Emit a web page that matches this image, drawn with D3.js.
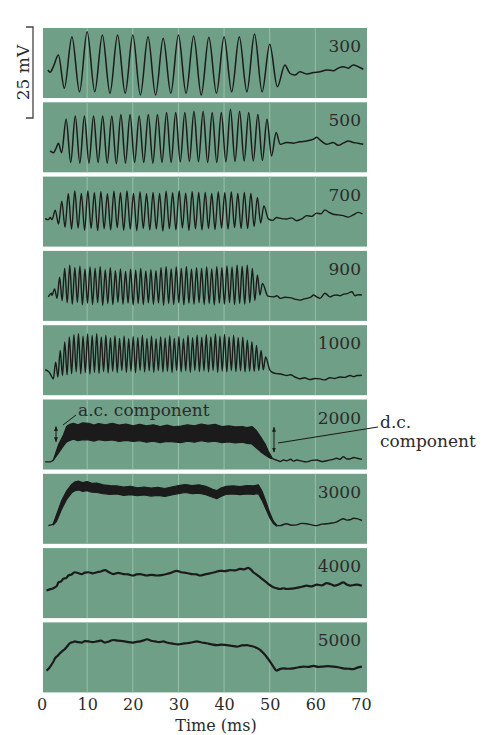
<!DOCTYPE html>
<html>
<head>
<meta charset="utf-8">
<script src="https://cdn.jsdelivr.net/npm/d3@7"></script>
<style>
  body { margin: 0; background: #fff; }
  svg text { font-family: 'DejaVu Serif', serif; fill: #2b2b2b; }
</style>
</head>
<body>
<div id="chart"></div>
<script>

// stimulus frequencies (Hz), one panel each
var freqs = [300, 500, 700, 900, 1000, 2000, 3000, 4000, 5000];
var timeTicks = [0, 10, 20, 30, 40, 50, 60, 70];
var gridTimes = [10, 20, 30, 40, 50, 60];

// a.c. panels: time (ms) of the first trough of the response
var onsets = [5.0, 4.4, 2.3, 2.3, 2.6];

// one peak / one trough per cycle, mV above panel floor
var peaks300 = [16.8, 18.2, 17.3, 17.3, 17.3, 16.8, 16.4, 17.3, 17.0, 16.7, 16.8, 16.8, 17.6, 14.8, 9.1];
var troughs300 = [2.7, 1.7, 1.7, 1.3, 1.3, 0.8, 0.8, 1.3, 1.3, 0.8, 1.3, 1.7, 1.7, 1.7, 3.1];

var peaks500 = [14.6, 15.5, 15.5, 15.5, 15.5, 15.5, 15.9, 15.9, 15.5, 15.9, 15.9, 16.4, 16.4, 16.4, 16.8, 16.8,
  16.4, 16.4, 17.3, 16.8, 16.4, 15.9, 14.6, 10.9];
var troughs500 = [5.4, 2.7, 2.5, 2.5, 2.7, 2.5, 2.4, 2.5, 2.7, 2.7, 2.5, 2.7, 2.7, 2.9, 3.0, 2.9,
  2.7, 2.7, 2.9, 3.0, 3.1, 3.1, 3.3, 4.5];

var peaks700 = [10.0, 12.5, 14.5, 15.3, 14.6, 15.3, 14.8, 15.1, 14.5, 15.2, 14.8, 15.3, 14.6, 15.0, 14.5, 14.9,
  14.6, 15.2, 14.8, 15.3, 14.7, 15.1, 14.9, 14.9, 14.6, 15.0, 14.8, 15.0, 14.6, 14.9, 14.6, 13.5, 11.2];
var troughs700 = [7.4, 6.2, 5.3, 4.8, 5.1, 4.5, 5.0, 4.4, 4.9, 4.6, 5.2, 4.5, 4.8, 4.4, 5.0, 4.6,
  4.8, 4.3, 4.9, 4.6, 5.1, 4.5, 4.9, 4.6, 5.0, 4.7, 5.1, 4.8, 5.2, 5.0, 5.0, 5.5, 6.5];

var peaks900 = [8.8, 12.0, 14.4, 15.3, 14.6, 15.0, 14.2, 14.8, 14.4, 14.9, 14.0, 14.6, 13.8, 14.3, 13.6, 14.2,
  13.9, 14.4, 13.7, 14.1, 13.8, 14.6, 14.9, 14.3, 14.8, 14.4, 14.9, 14.2, 14.6, 14.4, 14.8, 14.3,
  14.9, 14.6, 15.1, 14.8, 15.3, 15.0, 15.3, 14.4, 12.6, 10.3];
var troughs900 = [7.0, 6.2, 5.6, 5.0, 4.6, 5.1, 4.4, 4.9, 4.5, 5.0, 4.3, 4.8, 4.5, 5.1, 4.6, 4.9,
  4.4, 4.8, 4.5, 5.0, 4.6, 4.9, 4.3, 4.8, 4.5, 5.0, 4.4, 4.9, 4.6, 5.0, 4.5, 4.8,
  4.4, 4.9, 4.6, 5.0, 4.5, 4.8, 4.6, 5.0, 5.6, 7.1];

var peaks1000 = [9.1, 12.3, 14.6, 16.0, 16.6, 16.9, 16.2, 16.8, 16.4, 16.9, 16.0, 16.4, 15.7, 16.3, 15.6, 16.2,
  15.5, 16.1, 15.8, 16.4, 15.6, 16.2, 15.5, 16.0, 15.7, 16.3, 15.6, 16.1, 15.5, 16.4, 15.8, 16.5,
  15.9, 16.6, 16.0, 16.8, 16.2, 16.7, 16.0, 16.4, 15.8, 15.9, 15.1, 14.7, 13.7, 12.3, 10.5];
var troughs1000 = [4.5, 5.0, 5.4, 5.6, 5.9, 6.4, 5.9, 6.2, 5.8, 6.3, 6.0, 6.5, 6.1, 6.6, 6.2, 6.8,
  6.3, 6.6, 6.2, 6.8, 6.4, 6.7, 6.3, 6.8, 6.4, 6.6, 6.2, 6.8, 6.4, 6.7, 6.3, 6.8,
  6.5, 6.7, 6.4, 6.8, 6.3, 6.6, 6.4, 6.8, 6.5, 6.7, 6.4, 6.6, 6.5, 6.8, 7.0];

// resting trace before and after the tone, [ms, mV]
var pre300 = [[1.4, 7.7], [1.9, 7.1], [2.6, 8.6], [3.7, 11.8]];
var post300 = [[54.4, 6.8], [55.5, 6.3], [56.6, 7.2], [58.1, 6.6], [59.6, 7.0], [61.0, 7.2], [62.5, 7.7],
  [63.9, 7.5], [65.0, 8.2], [66.1, 8.6], [67.2, 8.2], [68.3, 9.1], [69.4, 8.6], [70.5, 7.9]];
var pre500 = [[1.9, 5.9], [2.6, 5.4], [3.2, 6.6], [3.7, 8.0]];
var post500 = [[52.3, 7.7], [53.7, 8.2], [55.2, 8.0], [56.6, 8.4], [58.1, 8.6], [59.6, 9.1], [60.3, 9.6],
  [61.0, 8.9], [62.5, 7.7], [63.9, 8.2], [65.0, 7.4], [66.1, 8.0], [67.2, 8.6], [68.3, 8.2], [69.4, 8.0], [70.5, 7.7]];
var pre700 = [[0.8, 7.7], [1.5, 7.4], [1.9, 8.0]];
var post700 = [[49.7, 7.6], [50.6, 7.2], [51.5, 8.0], [52.6, 7.7], [53.7, 7.6], [54.8, 7.9], [55.9, 7.1],
  [57.0, 7.6], [58.1, 8.5], [59.2, 8.3], [60.3, 9.2], [61.2, 9.0], [62.1, 10.1], [63.0, 9.4], [63.9, 8.9],
  [65.0, 8.7], [66.1, 8.5], [67.2, 8.1], [68.3, 8.7], [69.4, 9.4], [70.3, 9.0]];
var pre900 = [[1.5, 6.6], [2.2, 7.6]];
var post900 = [[49.6, 6.8], [50.8, 6.6], [51.6, 6.9], [52.3, 6.2], [53.3, 6.5], [54.4, 6.4], [55.5, 6.0],
  [56.6, 5.7], [57.4, 6.0], [58.1, 6.2], [59.0, 6.5], [59.6, 7.1], [60.3, 6.6], [61.0, 6.2], [62.1, 7.6],
  [63.2, 6.6], [64.0, 7.0], [64.7, 7.1], [65.4, 6.9], [66.1, 7.3], [67.0, 7.5], [68.0, 8.0], [68.7, 6.9],
  [69.4, 7.2], [70.2, 7.1]];
var pre1000 = [[0.8, 7.0], [1.6, 6.4], [1.9, 5.9]];
var post1000 = [[50.0, 7.0], [50.4, 6.4], [51.2, 6.0], [51.9, 5.9], [52.8, 5.7], [53.7, 5.4], [54.6, 5.6],
  [55.5, 5.0], [56.1, 4.7], [56.6, 4.5], [57.6, 4.8], [58.8, 4.3], [59.9, 4.6], [61.0, 4.5], [62.0, 4.2],
  [63.2, 4.8], [64.3, 4.6], [65.4, 5.0], [66.5, 4.9], [67.6, 5.4], [68.4, 5.1], [69.1, 5.4], [70.2, 5.5]];

// high frequencies: a.c. band edges, [ms, mV]
var upper2000 = [[2.6, 2.6], [3.7, 6.7], [4.8, 9.5], [5.5, 11.8], [6.2, 12.4], [7.0, 12.7], [8.0, 12.3],
  [9.0, 12.8], [10.3, 12.7], [11.5, 12.2], [12.5, 12.6], [14.0, 12.3], [15.5, 12.7], [17.0, 12.2], [18.5, 12.5],
  [20.1, 12.0], [21.5, 12.4], [23.0, 12.0], [24.5, 12.3], [26.0, 11.8], [27.5, 12.2], [29.0, 11.7], [30.5, 11.9],
  [32.0, 12.3], [33.5, 12.0], [35.0, 12.5], [36.5, 12.1], [38.0, 12.4], [39.5, 11.8], [41.0, 12.0], [42.5, 11.7],
  [44.0, 11.8], [45.0, 11.5], [46.1, 11.8], [47.0, 10.8], [48.0, 9.0], [49.0, 7.0], [49.7, 5.0], [50.4, 3.5]];
var lower2000 = [[2.6, 2.6], [3.7, 4.5], [4.8, 6.5], [5.5, 7.6], [6.2, 8.0], [7.0, 8.3], [8.0, 7.9],
  [9.0, 8.2], [10.3, 8.1], [11.5, 7.8], [12.5, 8.2], [14.0, 7.9], [15.5, 8.1], [17.0, 7.7], [18.5, 8.0],
  [20.1, 7.7], [21.5, 7.9], [23.0, 7.5], [24.5, 7.8], [26.0, 7.4], [27.5, 7.7], [29.0, 7.6], [30.5, 7.4],
  [32.0, 7.8], [33.5, 7.5], [35.0, 7.9], [36.5, 7.6], [38.0, 7.8], [39.5, 7.4], [41.0, 7.6], [42.5, 7.3],
  [44.0, 7.5], [45.0, 7.2], [46.1, 7.0], [47.0, 6.0], [48.0, 4.9], [49.0, 4.0], [49.7, 3.4], [50.4, 3.0]];
var pre2000 = [[0.8, 2.1], [1.9, 2.1], [2.6, 2.6]];
var post2000 = [[50.4, 3.2], [51.0, 2.8], [51.5, 2.6], [52.3, 2.2], [53.0, 2.6], [53.7, 2.4], [54.6, 2.8],
  [55.2, 2.3], [55.9, 2.6], [57.0, 2.3], [58.1, 2.1], [59.2, 2.5], [60.3, 2.6], [61.4, 2.2], [62.5, 2.4],
  [63.6, 2.7], [64.7, 3.1], [65.4, 2.8], [66.1, 3.5], [66.9, 2.9], [67.6, 2.9], [68.4, 3.3], [69.1, 3.1], [70.2, 2.8]];

var upper3000 = [[2.6, 5.6], [3.3, 8.0], [4.4, 11.8], [5.5, 14.5], [6.6, 16.3], [7.3, 17.0], [8.2, 17.2],
  [9.0, 16.8], [10.0, 17.1], [11.0, 16.6], [12.1, 16.7], [13.5, 16.2], [15.0, 16.0], [16.5, 15.9], [18.0, 15.6],
  [19.5, 15.8], [21.0, 15.4], [22.5, 15.6], [24.0, 15.3], [25.5, 15.5], [27.0, 15.2], [28.5, 15.6], [30.0, 16.0],
  [31.5, 16.3], [33.0, 16.0], [34.5, 16.2], [36.0, 15.8], [37.5, 15.0], [38.4, 14.6], [39.3, 15.3], [40.5, 15.8],
  [42.0, 15.9], [43.5, 15.7], [45.0, 16.0], [46.5, 15.9], [47.5, 16.2], [48.3, 14.5], [49.2, 11.5], [50.0, 8.5],
  [50.8, 6.2], [51.5, 5.2]];
var lower3000 = [[2.6, 5.2], [3.3, 6.2], [4.4, 9.5], [5.5, 12.2], [6.6, 14.0], [7.3, 14.6], [8.2, 14.8],
  [9.0, 14.4], [10.0, 14.6], [11.0, 14.2], [12.1, 14.1], [13.5, 13.8], [15.0, 13.6], [16.5, 13.7], [18.0, 13.3],
  [19.5, 13.5], [21.0, 13.2], [22.5, 13.4], [24.0, 13.1], [25.5, 13.3], [27.0, 13.0], [28.5, 13.4], [30.0, 13.8],
  [31.5, 14.1], [33.0, 13.8], [34.5, 13.9], [36.0, 13.5], [37.5, 12.8], [38.4, 12.4], [39.3, 13.0], [40.5, 13.6],
  [42.0, 13.7], [43.5, 13.5], [45.0, 13.7], [46.5, 13.6], [47.5, 13.8], [48.3, 12.0], [49.2, 9.5], [50.0, 7.2],
  [50.8, 5.6], [51.5, 4.9]];
var pre3000 = [[1.5, 5.0], [2.1, 5.2], [2.6, 5.4]];
var post3000 = [[51.5, 5.0], [52.3, 5.0], [53.0, 5.3], [53.7, 5.5], [54.8, 5.1], [55.9, 5.2], [57.0, 5.6],
  [58.1, 5.5], [59.2, 5.2], [60.3, 5.0], [61.4, 5.4], [62.5, 5.5], [63.6, 5.7], [64.7, 6.0], [65.4, 6.5],
  [66.1, 6.9], [66.9, 6.5], [67.6, 6.6], [68.4, 7.0], [69.1, 6.9], [70.2, 6.4]];

// d.c. only traces
var trace4000 = [[1.1, 7.6], [1.8, 7.9], [2.2, 8.0], [3.0, 8.5], [3.4, 8.9], [3.7, 9.8], [4.3, 10.1], [4.8, 10.8],
  [5.4, 11.0], [5.9, 11.7], [6.6, 12.0], [7.3, 12.6], [8.0, 12.4], [8.8, 12.1], [9.5, 12.5], [10.3, 12.6],
  [11.2, 12.3], [12.1, 12.6], [13.0, 12.8], [13.9, 13.2], [14.8, 12.6], [15.7, 12.1], [16.8, 12.4], [17.9, 12.1],
  [19.0, 12.0], [20.1, 11.7], [20.8, 12.0], [21.6, 12.1], [22.3, 11.9], [23.1, 11.7], [24.1, 11.9], [25.2, 11.7],
  [26.3, 11.8], [27.4, 12.1], [28.5, 12.5], [29.6, 13.0], [30.6, 12.6], [31.8, 12.4], [32.9, 12.1], [34.0, 12.0],
  [34.7, 11.7], [35.8, 12.0], [36.9, 12.3], [38.0, 12.6], [39.1, 13.0], [40.2, 12.9], [41.3, 13.2], [42.4, 13.1],
  [43.5, 13.5], [44.4, 13.4], [45.3, 13.8], [45.9, 13.3], [46.4, 12.6], [47.2, 11.9], [47.9, 11.2], [48.6, 10.5],
  [49.3, 9.8], [50.0, 9.1], [50.8, 8.5], [51.5, 8.2], [52.3, 8.0], [53.0, 8.2], [53.7, 8.0], [54.8, 8.1],
  [55.9, 8.3], [57.0, 8.6], [58.1, 8.9], [59.2, 8.7], [60.3, 9.2], [61.4, 9.0], [62.5, 9.6], [63.4, 9.3],
  [64.3, 8.9], [65.2, 9.3], [66.1, 9.8], [66.9, 9.2], [67.6, 8.9], [68.4, 9.1], [69.1, 9.2], [70.2, 8.9]];
var trace5000 = [[1.1, 6.0], [1.5, 6.4], [1.9, 7.1], [2.5, 8.2], [3.0, 9.4], [3.5, 10.0], [4.1, 10.8], [4.6, 11.4],
  [5.1, 11.9], [5.6, 12.6], [6.2, 13.5], [6.8, 13.8], [7.3, 14.0], [8.0, 13.8], [8.8, 13.7], [9.5, 14.1],
  [10.3, 14.0], [11.2, 13.8], [12.1, 14.0], [13.0, 14.2], [13.9, 13.7], [14.8, 14.0], [15.7, 14.4], [16.8, 14.2],
  [17.9, 14.1], [19.0, 13.8], [20.1, 13.7], [20.8, 13.9], [21.6, 14.0], [22.4, 14.3], [23.1, 14.6], [24.0, 14.2],
  [24.9, 14.0], [25.8, 13.8], [26.7, 14.0], [27.4, 13.7], [28.2, 13.5], [29.1, 13.3], [30.0, 13.2], [31.0, 13.4],
  [31.8, 13.5], [32.9, 13.7], [34.0, 14.0], [35.1, 13.7], [36.2, 13.5], [37.3, 13.2], [38.4, 13.0], [39.5, 13.1],
  [40.6, 13.0], [41.7, 12.8], [42.8, 12.6], [43.9, 12.9], [45.0, 13.0], [45.7, 12.8], [46.4, 12.6], [47.2, 12.2],
  [47.9, 11.7], [48.6, 10.8], [49.3, 9.8], [50.0, 8.6], [50.8, 7.1], [51.5, 6.0], [52.2, 6.4], [53.0, 6.6],
  [54.1, 6.5], [55.2, 6.6], [56.3, 6.9], [57.4, 7.1], [58.5, 7.0], [59.6, 7.3], [60.6, 7.0], [61.7, 7.1],
  [62.8, 7.2], [63.9, 7.1], [65.0, 6.9], [66.1, 6.6], [67.2, 6.5], [68.3, 6.4], [69.2, 6.8], [70.2, 7.1]];

var scaleBarMv = 25;

var acPanels = [
  { peaks: peaks300, troughs: troughs300, pre: pre300, post: post300 },
  { peaks: peaks500, troughs: troughs500, pre: pre500, post: post500 },
  { peaks: peaks700, troughs: troughs700, pre: pre700, post: post700 },
  { peaks: peaks900, troughs: troughs900, pre: pre900, post: post900 },
  { peaks: peaks1000, troughs: troughs1000, pre: pre1000, post: post1000 }
];
var bandPanels = [
  { upper: upper2000, lower: lower2000, pre: pre2000, post: post2000 },
  { upper: upper3000, lower: lower3000, pre: pre3000, post: post3000 }
];
var linePanels = [trace4000, trace5000];

var width = 487, height = 735;
var panelLeft = 43, panelRight = 367, panelTop = 28, panelStep = 74.3, panelHeight = 70;
var pxPerMv = 3.64;
var panelFill = '#6f9f87', gridColor = '#98bfa9', ink = '#1b1b1b';

var svg = d3.select('#chart')
  .append('svg')
    .attr('width', width)
    .attr('height', height);

svg.append('rect').attr('width', width).attr('height', height).attr('fill', '#fff');

var defs = svg.append('defs');
defs.append('marker')
    .attr('id', 'head')
    .attr('viewBox', '0 0 10 10')
    .attr('refX', 9).attr('refY', 5)
    .attr('markerWidth', 5).attr('markerHeight', 5)
    .attr('orient', 'auto-start-reverse')
  .append('path')
    .attr('d', 'M0,1 L10,5 L0,9 Z')
    .attr('fill', ink);

var x = d3.scaleLinear()
  .domain([0, 70])
  .range([41.5, 361]);

function panelScale(i) {
  var top = panelTop + i * panelStep;
  return d3.scaleLinear()
    .domain([0, panelHeight / pxPerMv])
    .range([top + panelHeight, top]);
}

var line = d3.line()
  .curve(d3.curveMonotoneX);

freqs.forEach(function (f, i) {
  var top = panelTop + i * panelStep;
  var y = panelScale(i);
  var g = svg.append('g');

  g.append('rect')
      .attr('x', panelLeft)
      .attr('y', top)
      .attr('width', panelRight - panelLeft)
      .attr('height', panelHeight)
      .attr('fill', panelFill);

  g.selectAll('.grid')
      .data(gridTimes)
      .enter()
    .append('line')
      .attr('x1', function (d) { return x(d); })
      .attr('x2', function (d) { return x(d); })
      .attr('y1', top)
      .attr('y2', top + panelHeight)
      .attr('stroke', gridColor)
      .attr('stroke-width', 1);

  g.append('text')
      .attr('x', 361)
      .attr('y', top + 24)
      .attr('text-anchor', 'end')
      .attr('font-size', 17)
      .text(f);

  var toXY = function (d) { return [x(d[0]), y(d[1])]; };

  if (i < acPanels.length) {
    var p = acPanels[i];
    var period = 1000 / f;
    var pts = p.pre.slice();
    p.troughs.forEach(function (v, k) {
      pts.push([onsets[i] + k * period, v]);
      pts.push([onsets[i] + (k + 0.5) * period, p.peaks[k]]);
    });
    pts = pts.concat(p.post);
    g.append('path')
        .attr('d', line(pts.map(toXY)))
        .attr('fill', 'none')
        .attr('stroke', ink)
        .attr('stroke-width', i < 2 ? 1.5 : 1.4)
        .attr('stroke-linejoin', 'round');
  } else if (i < acPanels.length + bandPanels.length) {
    var b = bandPanels[i - acPanels.length];
    var band = b.upper.map(function (d, k) { return [d[0], d[1], b.lower[k][1]]; });
    var area = d3.area()
      .x(function (d) { return x(d[0]); })
      .y0(function (d) { return y(d[2]); })
      .y1(function (d) { return y(d[1]); });
    g.append('path')
        .attr('d', area(band))
        .attr('fill', ink)
        .attr('stroke', ink)
        .attr('stroke-width', 1.2)
        .attr('stroke-linejoin', 'round');
    [b.pre, b.post].forEach(function (seg) {
      g.append('path')
          .attr('d', line(seg.map(toXY)))
          .attr('fill', 'none')
          .attr('stroke', ink)
          .attr('stroke-width', 1.4);
    });
  } else {
    var tr = linePanels[i - acPanels.length - bandPanels.length];
    g.append('path')
        .attr('d', line(tr.map(toXY)))
        .attr('fill', 'none')
        .attr('stroke', ink)
        .attr('stroke-width', 2.2)
        .attr('stroke-linejoin', 'round');
  }
});

// time axis
var axis = svg.append('g')
  .attr('transform', 'translate(0,' + 696 + ')')
  .call(d3.axisBottom(x).tickValues(timeTicks).tickSize(0).tickPadding(3).tickFormat(d3.format('d')));
axis.select('.domain').remove();
axis.selectAll('text')
  .attr('font-family', 'DejaVu Serif')
  .attr('font-size', 16)
  .attr('fill', '#2b2b2b');

svg.append('text')
    .attr('x', 216)
    .attr('y', 731)
    .attr('text-anchor', 'middle')
    .attr('font-size', 16)
    .text('Time (ms)');

// 25 mV scale bar
var y0 = panelScale(0);
var barTop = panelTop - 1;
var barBottom = barTop + (y0(0) - y0(scaleBarMv));
svg.append('path')
    .attr('d', 'M26,' + barTop + 'H33V' + barBottom + 'H26')
    .attr('fill', 'none')
    .attr('stroke', '#444')
    .attr('stroke-width', 1.3);
svg.append('text')
    .attr('transform', 'translate(29,' + ((barTop + barBottom) / 2) + ') rotate(-90)')
    .attr('text-anchor', 'middle')
    .attr('font-size', 17)
    .text('25 mV');

// annotations on the 2000 Hz panel
var y5 = panelScale(5);
svg.append('line')
    .attr('x1', 56).attr('x2', 56)
    .attr('y1', y5(11.8)).attr('y2', y5(7.6))
    .attr('stroke', ink).attr('stroke-width', 1)
    .attr('marker-start', 'url(#head)')
    .attr('marker-end', 'url(#head)');
svg.append('line')
    .attr('x1', 63).attr('y1', 425)
    .attr('x2', 76).attr('y2', 415)
    .attr('stroke', ink).attr('stroke-width', 1);
svg.append('text')
    .attr('x', 78)
    .attr('y', 416)
    .attr('font-size', 17)
    .text('a.c. component');

svg.append('line')
    .attr('x1', 274).attr('x2', 274)
    .attr('y1', y5(11.6)).attr('y2', y5(4.8))
    .attr('stroke', ink).attr('stroke-width', 1)
    .attr('marker-start', 'url(#head)')
    .attr('marker-end', 'url(#head)');
svg.append('line')
    .attr('x1', 278).attr('y1', 443)
    .attr('x2', 378).attr('y2', 427)
    .attr('stroke', ink).attr('stroke-width', 1.1);
svg.append('text')
    .attr('x', 380)
    .attr('y', 428)
    .attr('font-size', 17)
    .text('d.c.');
svg.append('text')
    .attr('x', 380)
    .attr('y', 447)
    .attr('font-size', 17)
    .text('component');

</script>
</body>
</html>
